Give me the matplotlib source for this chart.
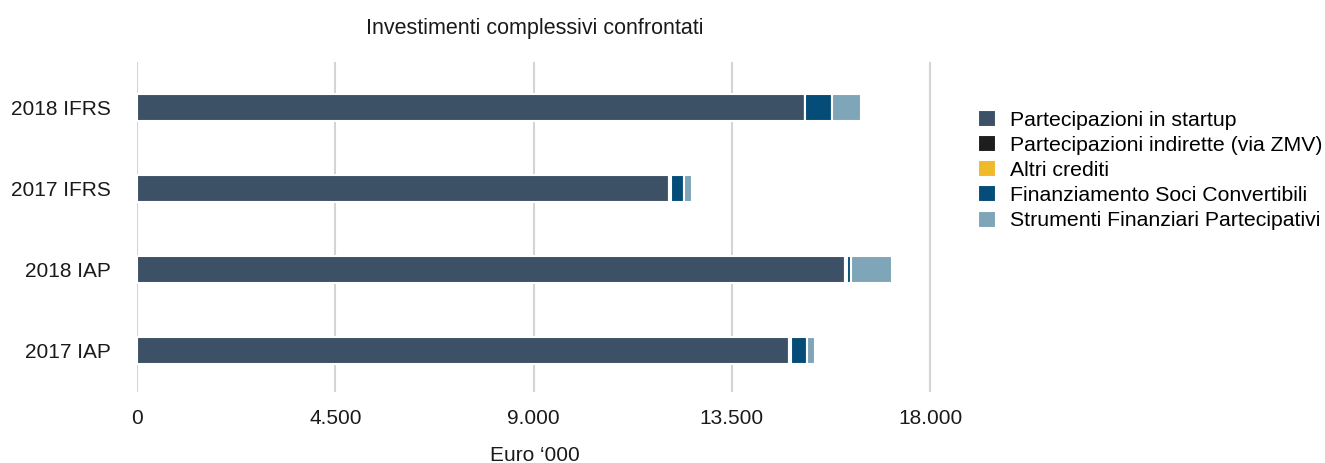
import matplotlib.pyplot as plt
import numpy as np

plt.rcParams['font.family'] = ['Liberation Sans', 'DejaVu Sans']

# Categories, bottom to top
labels = ['2017 IAP', '2018 IAP', '2017 IFRS', '2018 IFRS']

# Values in Euro '000
startup = [14800, 16070, 12070, 15160]
indirette = [40, 40, 40, 0]
altri_crediti = [0, 0, 0, 0]
fin_soci = [370, 100, 310, 610]
sfp = [170, 930, 170, 660]

series = ['Partecipazioni in startup', 'Partecipazioni indirette (via ZMV)',
          'Altri crediti', 'Finanziamento Soci Convertibili',
          'Strumenti Finanziari Partecipativi']
colors = ['#3d5166', '#1e1e1e', '#f0b929', '#054d78', '#7fa6b8']

fig = plt.figure(figsize=(13.25, 4.63), dpi=100)
ax = fig.add_axes([137 / 1325, 1 - 392 / 463, 795 / 1325, 330 / 463])

y = np.arange(len(labels))
left = np.zeros(len(labels))
for name, vals, c in zip(series, [startup, indirette, altri_crediti, fin_soci, sfp], colors):
    ax.barh(y, vals, left=left, height=0.33, color=c, edgecolor='white',
            linewidth=1.5, label=name, zorder=3)
    left += np.array(vals)

ax.set_xlim(0, 18045)
ax.set_ylim(-0.515, 3.56)
ax.set_xticks([0, 4500, 9000, 13500, 18000])
ax.set_xticklabels(['0', '4.500', '9.000', '13.500', '18.000'])
ax.set_yticks(y)
ax.set_yticklabels(labels)
ax.tick_params(axis='both', length=0, labelsize=15, colors='#1a1a1a')
ax.tick_params(axis='y', pad=19)
ax.tick_params(axis='x', pad=12)
ax.grid(axis='x', color='#d4d4d4', linewidth=1.5, zorder=0)
for s in ax.spines.values():
    s.set_visible(False)

ax.set_title('Investimenti complessivi confrontati', fontsize=15.5, pad=20, color='#1a1a1a')
ax.set_xlabel('Euro \u2018000', fontsize=15, labelpad=13, color='#1a1a1a')

handles, names = ax.get_legend_handles_labels()
fig.legend(handles, names, loc='upper left', bbox_to_anchor=(978 / 1325, 1 - 110 / 463),
           frameon=False, fontsize=15.3, handlelength=0.85, handleheight=0.85,
           handletextpad=0.65, labelspacing=0.25, borderaxespad=0, borderpad=0)

plt.savefig('out.png', dpi=100)
